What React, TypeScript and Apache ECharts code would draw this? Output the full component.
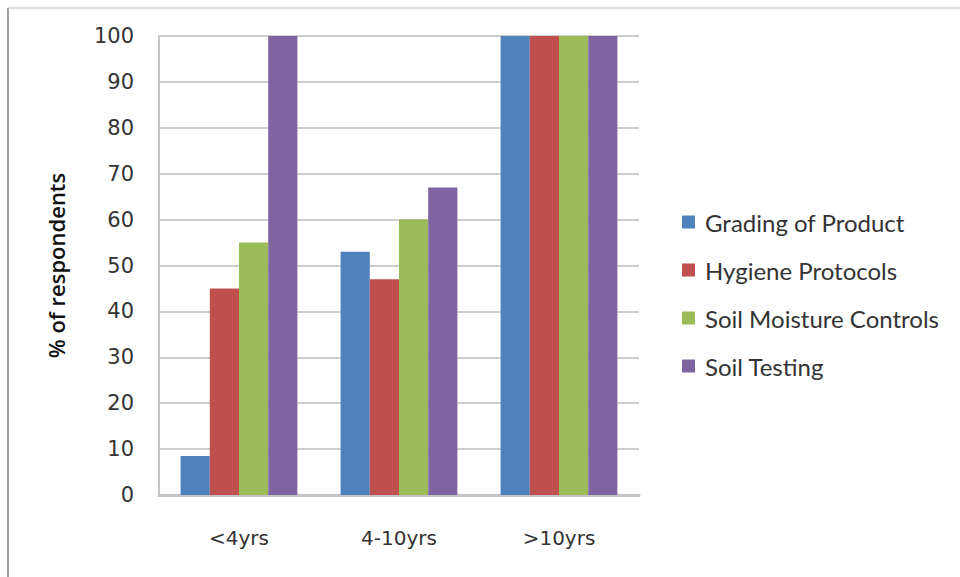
import React, { useEffect, useRef } from "react";
import * as echarts from "echarts";

const categories = ["<4yrs", "4-10yrs", ">10yrs"];
const seriesNames = [
  "Grading of Product",
  "Hygiene Protocols",
  "Soil Moisture Controls",
  "Soil Testing",
];
const gradingOfProduct = [8.5, 53, 100];
const hygieneProtocols = [45, 47, 100];
const soilMoistureControls = [55, 60, 100];
const soilTesting = [100, 67, 100];
const seriesColors = ["#4F81BD", "#C0504D", "#9BBB59", "#8064A2"];
const yTicks = [0, 10, 20, 30, 40, 50, 60, 70, 80, 90, 100];

export default function App() {
  const ref = useRef<HTMLDivElement>(null);

  useEffect(() => {
    if (!ref.current) return;
    const chart = echarts.init(ref.current, undefined, { renderer: "svg" });
    const values = [gradingOfProduct, hygieneProtocols, soilMoistureControls, soilTesting];
    const font = "'DejaVu Sans', Verdana, sans-serif";

    chart.setOption({
      animation: false,
      backgroundColor: "#ffffff",
      grid: { left: 159, right: 321, top: 36, bottom: 82 },
      legend: {
        orient: "vertical",
        left: 682,
        top: 210,
        padding: 0,
        itemWidth: 13,
        itemHeight: 13,
        itemGap: 24,
        icon: "rect",
        textStyle: {
          fontFamily: "Lato, 'Open Sans', sans-serif",
          fontSize: 24,
          color: "#333333",
          lineHeight: 24,
          padding: [0, 0, 0, 5],
        },
        data: seriesNames,
      },
      xAxis: {
        type: "category",
        data: categories,
        axisLine: { show: true, lineStyle: { color: "#c4c4c4", width: 3 } },
        axisTick: { show: false },
        axisLabel: {
          margin: 33,
          fontFamily: font,
          fontSize: 20,
          color: "#333333",
        },
      },
      yAxis: {
        type: "value",
        min: yTicks[0],
        max: yTicks[yTicks.length - 1],
        interval: 10,
        name: "% of respondents",
        nameLocation: "middle",
        nameGap: 92,
        nameTextStyle: {
          fontFamily: "'Open Sans', sans-serif",
          fontWeight: 600,
          fontSize: 22,
          color: "#111111",
        },
        axisLine: { show: true, lineStyle: { color: "#c4c4c4", width: 2 } },
        axisTick: { show: false },
        axisLabel: {
          margin: 25,
          fontFamily: font,
          fontSize: 21,
          color: "#333333",
        },
        splitLine: { show: true, lineStyle: { color: "#cdcdcd", width: 2 } },
      },
      series: seriesNames.map((name, i) => ({
        name,
        type: "bar",
        data: values[i],
        barGap: "0%",
        barCategoryGap: "27%",
        itemStyle: { color: seriesColors[i] },
      })),
      graphic: [
        {
          type: "line",
          shape: { x1: 8, y1: 8, x2: 960, y2: 8 },
          style: { stroke: "#dddddd", lineWidth: 2 },
        },
        {
          type: "line",
          shape: { x1: 8, y1: 8, x2: 8, y2: 577 },
          style: { stroke: "#a0a0a0", lineWidth: 2 },
        },
      ],
    });

    return () => chart.dispose();
  }, []);

  return (
    <div
      ref={ref}
      style={{ position: "fixed", left: 0, top: 0, width: 960, height: 577 }}
    />
  );
}
